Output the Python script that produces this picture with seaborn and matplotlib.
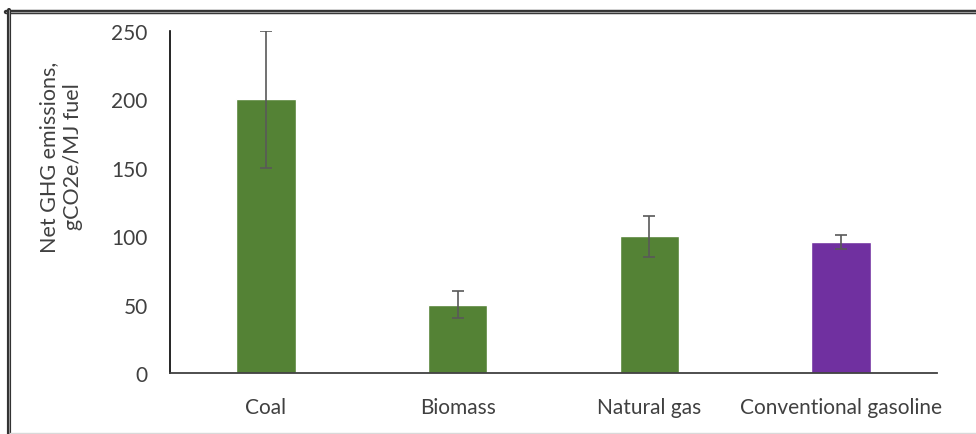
import matplotlib
matplotlib.use("Agg")
import matplotlib.pyplot as plt
from matplotlib.lines import Line2D
import seaborn as sns
import numpy as np

categories = ["Coal", "Biomass", "Natural gas", "Conventional gasoline"]
values = [200, 50, 100, 96]
err_low = [50, 10, 15, 5]
err_high = [50, 10, 15, 5]
colors = ["#548235", "#548235", "#548235", "#7030A0"]
yticks = [0, 50, 100, 150, 200, 250]
ylabel = "Net GHG emissions,\ngCO2e/MJ fuel"

sns.set_theme(style="white")
plt.rcParams["font.family"] = ["Lato", "DejaVu Sans"]

W, H = 976, 435
fig = plt.figure(figsize=(W / 100, H / 100), dpi=100)
ax = fig.add_axes([170 / W, (H - 374) / H, (937 - 170) / W, (374 - 32) / H])

sns.barplot(x=categories, y=values, hue=categories, palette=colors, width=0.31,
            legend=False, ax=ax, saturation=1)
ax.errorbar(np.arange(len(categories)), values, yerr=[err_low, err_high], fmt="none",
            ecolor="#595959", elinewidth=1.2, capsize=4, capthick=1.2)

ax.set_ylim(0, 250)
ax.set_xlim(-0.5, len(categories) - 0.5)
ax.set_yticks(yticks)
ax.set_yticklabels([str(t) for t in yticks])
ax.tick_params(axis="both", length=0, labelsize=15, colors="#404040")
ax.tick_params(axis="y", pad=16)
ax.tick_params(axis="x", pad=17)
ax.set_xlabel("")
ax.set_ylabel("")
for s in ["top", "right"]:
    ax.spines[s].set_visible(False)
ax.spines["left"].set_color("#000000")
ax.spines["left"].set_linewidth(1.2)
ax.spines["bottom"].set_color("#404040")
ax.spines["bottom"].set_linewidth(1.3)

fig.text(61 / W, 1 - 157 / H, ylabel, rotation=90, ha="center", va="center",
         fontsize=15.5, color="#404040", multialignment="center", linespacing=1.3)

# figure border (top and left double lines, bottom light grey)
def fx(x): return x / W
def fy(y): return 1 - y / H
fig.add_artist(Line2D([fx(6), fx(976)], [fy(12.5), fy(12.5)], color="#333333", lw=3.2, transform=fig.transFigure))
fig.add_artist(Line2D([fx(6), fx(976)], [fy(12.5), fy(12.5)], color="#9a9a9a", lw=0.8, transform=fig.transFigure))
fig.add_artist(Line2D([fx(8.5), fx(8.5)], [fy(11), fy(435)], color="#333333", lw=3.0, transform=fig.transFigure))
fig.add_artist(Line2D([fx(8.5), fx(8.5)], [fy(11), fy(435)], color="#9a9a9a", lw=0.7, transform=fig.transFigure))
fig.add_artist(Line2D([fx(10), fx(976)], [fy(433.5), fy(433.5)], color="#d9d9d9", lw=1.0, transform=fig.transFigure))

fig.savefig("out.png", dpi=100)
